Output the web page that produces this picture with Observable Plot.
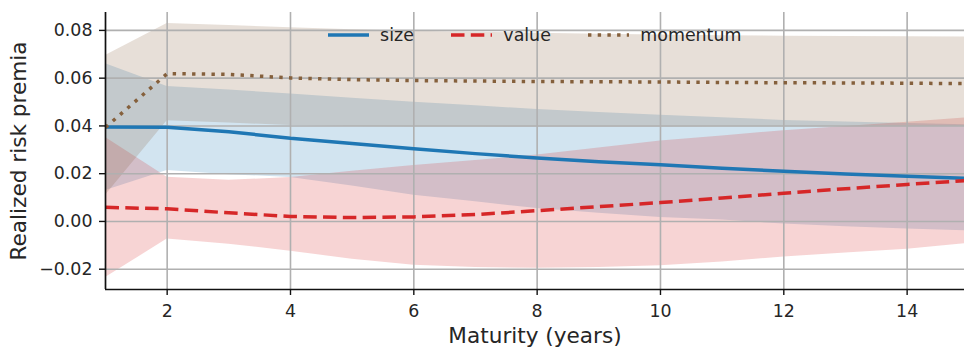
<!DOCTYPE html>
<html><head><meta charset="utf-8">
<script src="https://cdn.jsdelivr.net/npm/d3@7"></script>
<script src="https://cdn.jsdelivr.net/npm/@observablehq/plot@0.6"></script>
<style>
body{margin:0;background:#fff;font-family:"DejaVu Sans",sans-serif;}
#wrap{position:relative;width:964px;height:349px;overflow:hidden;}
#legend{position:absolute;left:105px;width:859px;top:25px;display:flex;justify-content:center;align-items:center;font-size:17.4px;color:#262626;line-height:20px;}
.item{display:flex;align-items:center;margin:0 18.5px;}
.item svg{margin-right:11.5px;display:block;}
</style></head><body><div id="wrap"><div id="legend"></div></div>
<script>
const maturity = [1,2,3,4,5,6,7,8,9,10,11,12,13,14,15];

const sizeMean = [0.0395,0.0394,0.0376,0.0348,0.0326,0.0304,0.0284,0.0266,0.0250,0.0237,0.0223,0.0210,0.0199,0.0189,0.0180];
const sizeLow  = [0.0130,0.0213,0.0196,0.0184,0.0148,0.0110,0.0082,0.0054,0.0034,0.0017,0.0006,-0.0011,-0.0022,-0.0032,-0.0040];
const sizeHigh = [0.0660,0.0565,0.0550,0.0534,0.0516,0.0499,0.0484,0.0469,0.0456,0.0445,0.0434,0.0423,0.0416,0.0410,0.0404];

const valueMean = [0.0059,0.0053,0.0036,0.0021,0.0016,0.0019,0.0029,0.0045,0.0062,0.0079,0.0098,0.0118,0.0137,0.0155,0.0172];
const valueLow  = [-0.0235,-0.0074,-0.0095,-0.0125,-0.0158,-0.0183,-0.0193,-0.0196,-0.0193,-0.0186,-0.0170,-0.0149,-0.0132,-0.0116,-0.0092];
const valueHigh = [0.0352,0.0185,0.0172,0.0184,0.0210,0.0234,0.0255,0.0278,0.0308,0.0337,0.0358,0.0380,0.0398,0.0415,0.0435];

const momentumMean = [0.0394,0.0619,0.0616,0.0601,0.0594,0.0590,0.0588,0.0586,0.0585,0.0584,0.0582,0.0581,0.0580,0.0579,0.0577];
const momentumLow  = [0.0110,0.0422,0.0412,0.0402,0.0398,0.0396,0.0395,0.0394,0.0394,0.0394,0.0395,0.0395,0.0396,0.0397,0.0398];
const momentumHigh = [0.0695,0.0829,0.0821,0.0811,0.0803,0.0797,0.0792,0.0788,0.0784,0.0781,0.0778,0.0776,0.0775,0.0773,0.0772];

const seriesNames = ["size","value","momentum"];
const seriesColors = ["#1f77b4","#d62728","#85603c"];
const seriesDash = [null,"13.5,6.3","3.4,6.3"];

const xTicks = [2,4,6,8,10,12,14];
const yTicks = [-0.02,0,0.02,0.04,0.06,0.08];
const xDomain = [1,15];
const yDomain = [-0.0285,0.0875];

const seriesData = [
  {name:"size", mean:sizeMean, low:sizeLow, high:sizeHigh},
  {name:"value", mean:valueMean, low:valueLow, high:valueHigh},
  {name:"momentum", mean:momentumMean, low:momentumLow, high:momentumHigh}
];
const rows = [];
seriesData.forEach(s => maturity.forEach((m,i) => rows.push({series:s.name, maturity:m, mean:s.mean[i], low:s.low[i], high:s.high[i]})));

const lineMarks = seriesNames.map((n,i) => Plot.lineY(rows.filter(d => d.series === n), {
  x:"maturity", y:"mean", stroke: seriesColors[i], strokeWidth:3.5,
  strokeDasharray: seriesDash[i] || undefined, strokeLinecap:"butt", strokeLinejoin:"round"
}));

const plot = Plot.plot({
  width:964, height:349, marginLeft:105, marginRight:0, marginTop:12, marginBottom:60,
  style:{fontFamily:"DejaVu Sans", fontSize:"17.4px", color:"#262626", background:"white", overflow:"hidden"},
  x:{domain:xDomain, range:[105,968.3]},
  y:{domain:yDomain},
  color:{domain:seriesNames, range:seriesColors},
  marks:[
    Plot.areaY(rows, {x:"maturity", y1:"low", y2:"high", fill:"series", z:"series", fillOpacity:0.2}),
    Plot.gridX({ticks:xTicks, stroke:"#b0b0b0", strokeOpacity:1, strokeWidth:1.6}),
    Plot.gridY({ticks:yTicks, stroke:"#b0b0b0", strokeOpacity:1, strokeWidth:1.6}),
    ...lineMarks,
    Plot.ruleX([xDomain[0]], {stroke:"#111", strokeWidth:1.7}),
    Plot.ruleY([yDomain[0]], {stroke:"#111", strokeWidth:1.7}),
    Plot.axisX({ticks:xTicks, tickSize:6, tickPadding:9.5, stroke:"#111", strokeWidth:1.4, fontSize:17.4, label:null}),
    Plot.axisY({ticks:yTicks, tickFormat:d3.format(".2f"), tickSize:6, tickPadding:7, stroke:"#111", strokeWidth:1.4, fontSize:17.4, label:null}),
    Plot.text(["Realized risk premia"], {frameAnchor:"left", dx:-86, rotate:-90, lineAnchor:"middle", textAnchor:"middle", fontSize:21.6}),
    Plot.text(["Maturity (years)"], {frameAnchor:"bottom", dy:47, lineAnchor:"middle", textAnchor:"middle", fontSize:21.6})
  ]
});
document.getElementById("wrap").prepend(plot);

const legend = document.getElementById("legend");
seriesNames.forEach((n,i) => {
  const item = document.createElement("div");
  item.className = "item";
  const dash = seriesDash[i] ? `stroke-dasharray="${seriesDash[i]}"` : "";
  item.innerHTML = `<svg width="41" height="10"><line x1="0" x2="41" y1="5" y2="5" stroke="${seriesColors[i]}" stroke-width="3.5" ${dash}/></svg><span>${n}</span>`;
  legend.appendChild(item);
});
</script>
</body></html>
